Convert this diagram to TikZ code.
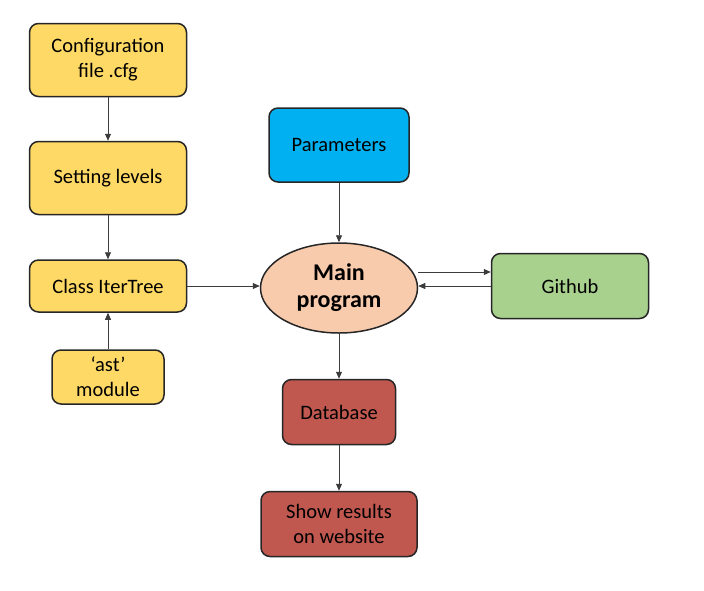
\documentclass[tikz,border=0pt]{standalone}
\usepackage{fontspec}
\setmainfont{Carlito}
\usetikzlibrary{arrows.meta,shapes.geometric}
\definecolor{boxyellow}{RGB}{255,217,102}
\definecolor{boxblue}{RGB}{0,176,240}
\definecolor{boxpeach}{RGB}{248,203,173}
\definecolor{boxgreen}{RGB}{169,209,142}
\definecolor{boxred}{RGB}{192,88,80}
\definecolor{edgegray}{RGB}{38,38,38}
\tikzset{
  block/.style={draw=edgegray, line width=1.5pt, rounded corners=9pt, align=center,
    font=\fontsize{20.5}{25}\selectfont, inner sep=0pt},
  flow/.style={-{Triangle[length=7pt,width=6pt]}, line width=0.8pt, draw=edgegray!90}
}
\begin{document}
\begin{tikzpicture}[x=1pt,y=-1pt]
			%%%%% START %%%%%
			\useasboundingbox (0,0) rectangle (704,590);
			
			\node[block, fill=boxyellow, minimum width=157pt, minimum height=73pt] (config) at (108,60) {Configuration\\file .cfg};
			\node[block, fill=boxyellow, minimum width=157pt, minimum height=73pt] (levels) at (108,178) {Setting levels};
			\node[block, fill=boxyellow, minimum width=157pt, minimum height=52pt] (itertree) at (108,286) {Class IterTree};
			\node[block, fill=boxyellow, minimum width=112pt, minimum height=54pt] (ast) at (108,377) {`ast'\\module};
			
			\node[block, fill=boxblue, minimum width=140pt, minimum height=74pt] (params) at (339,145) {Parameters};
			\node[ellipse, draw=edgegray, line width=1.5pt, fill=boxpeach, minimum width=157pt, minimum height=90pt, inner sep=0pt, align=center,
			  font=\bfseries\fontsize{24}{27}\selectfont] (main) at (339,288) {Main\\program};
			\node[block, fill=boxgreen, minimum width=157pt, minimum height=65pt] (github) at (570,286) {Github};
			
			\node[block, fill=boxred, minimum width=113pt, minimum height=65pt] (db) at (339,412) {Database};
			\node[block, fill=boxred, minimum width=156pt, minimum height=65pt] (web) at (339,524) {Show results\\on website};
			
			\draw[flow] (config) -- (levels);
			\draw[flow] (levels) -- (itertree);
			\draw[flow] (ast) -- (itertree);
			\draw[flow] (itertree) -- (itertree -| main.west);
			\draw[flow] (params) -- (main);
			\draw[flow] (main.east |- 0,272) -- (github.west |- 0,272);
			\draw[flow] (github.west |- 0,286) -- (main.east |- 0,286);
			\draw[flow] (main) -- (db);
			\draw[flow] (db) -- (web);
			
			%%%%% END %%%%%
\end{tikzpicture}
\end{document}
